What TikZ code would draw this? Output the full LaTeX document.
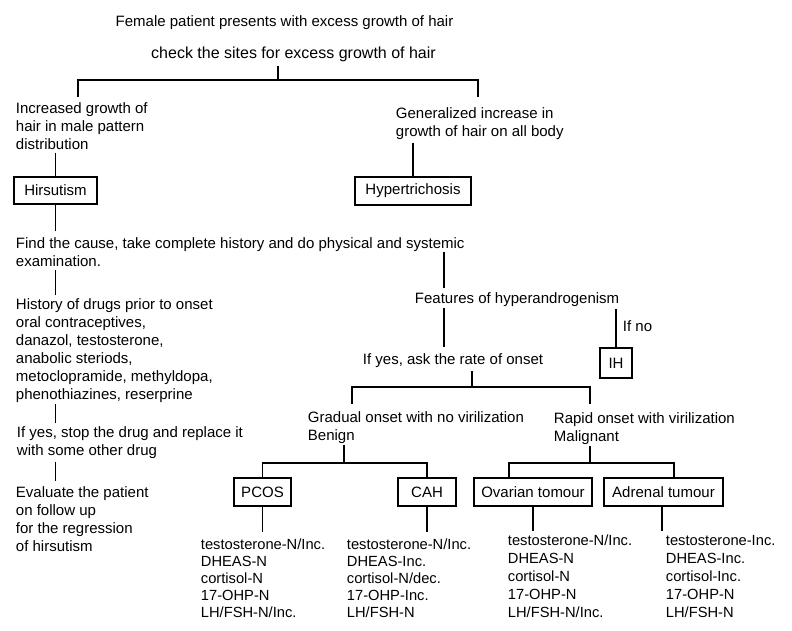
\documentclass[tikz,border=0pt]{standalone}
\usepackage{fontspec}
\setmainfont{Liberation Sans}
\newcommand\fsz{\fontsize{15}{18}\selectfont}
\newcommand\fcol{\fontsize{14.7}{17}\selectfont}
\newcommand\fcolb{\fontsize{14.7}{18}\selectfont}
\begin{document}
\begin{tikzpicture}[x=1pt,y=-1pt,line width=1.9pt,
  txt/.style={inner sep=0pt,align=left,font=\fsz},
  box/.style={draw,inner sep=0pt,minimum height=28pt,font=\fsz}]
\useasboundingbox (0,0) rectangle (792,630);
\fill[white] (0,0) rectangle (792,630);
% top
\node[txt,anchor=base] (t1) at (284.5,26) {Female patient presents with excess growth of hair};
\node[txt,anchor=base,font=\fontsize{16}{19}\selectfont] (t2) at (293.5,58.5) {check the sites for excess growth of hair};
\coordinate (j1) at (278,80);
\coordinate (bl) at (78,97);
\coordinate (br) at (478,97);
\draw[shorten <=3pt] (t2.south -| j1) -- (j1);
\draw (bl) |- (j1) -| (br);
\node[txt,anchor=north west] (inc) at (15,102) {Increased growth of\\hair in male pattern\\distribution};
\node[txt,anchor=north west] (gen) at (395,107) {Generalized increase in\\growth of hair on all body};
\node[box,minimum width=83pt,minimum height=27pt] (hirs) at (55.5,190.5) {Hirsutism};
\node[box,minimum width=116pt] (hyp) at (413,191) {Hypertrichosis};
\draw[shorten <=2pt] (hirs.north |- inc.south) -- (hirs.north);
\draw[shorten <=2pt] (hyp.north |- gen.south) -- (hyp.north);
% left column
\node[txt,anchor=north west] (find) at (15,237) {Find the cause, take complete history and do physical and systemic\\examination.};
\draw[shorten >=6pt] (hirs.south) -- (hirs.south |- find.north);
\node[txt,anchor=north west] (hist) at (15,298) {History of drugs prior to onset\\oral contraceptives,\\danazol, testosterone,\\anabolic steriods,\\metoclopramide, methyldopa,\\phenothiazines, reserprine};
\draw[shorten <=2pt,shorten >=3pt] (hirs.south |- find.south) -- (hirs.south |- hist.north);
\node[txt,anchor=north west] (stop) at (16,426) {If yes, stop the drug and replace it\\with some other drug};
\draw[shorten >=3pt] (hirs.south |- hist.south) -- (hirs.south |- stop.north);
\node[txt,anchor=north west] (eval) at (15,486) {Evaluate the patient\\on follow up\\for the regression\\of hirsutism};
\draw[shorten <=2pt,shorten >=5pt] (hirs.south |- stop.south) -- (hirs.south |- eval.north);
% right branch
\node[txt,anchor=base west] (feat) at (414,303) {Features of hyperandrogenism};
\coordinate (fc) at (444,252);
\draw[shorten >=3pt] (fc) -- (fc |- feat.north);
\node[txt,anchor=base west] (rate) at (362,364) {If yes, ask the rate of onset};
\draw[shorten <=1pt,shorten >=5pt] (fc |- feat.south) -- (fc |- rate.north);
\node[box,minimum width=32pt,minimum height=30pt] (ih) at (616,363) {IH};
\draw[shorten <=2pt] (ih.north |- feat.south) -- (ih.north);
\node[txt,anchor=base west] (ifno) at (622,331) {If no};
\coordinate (j2) at (472,387);
\coordinate (gl) at (352,404);
\coordinate (gr) at (590,404);
\draw[shorten <=3pt] (rate.south -| j2) -- (j2);
\draw (gl) |- (j2) -| (gr);
\node[txt,anchor=north west] (grad) at (307,411) {Gradual onset with no virilization\\Benign};
\node[txt,anchor=north west] (rapid) at (553,412) {Rapid onset with virilization\\Malignant};
% diagnosis boxes
\node[box,minimum width=57pt] (pcos) at (262.5,492) {PCOS};
\node[box,minimum width=58pt] (cah) at (427,492) {CAH};
\node[box,minimum width=118pt] (ova) at (533,492) {Ovarian tomour};
\node[box,minimum width=119pt] (adr) at (663.5,492) {Adrenal tumour};
\coordinate (j3) at (344,463);
\draw (j3 |- grad.south) -- (j3);
\draw (pcos.north) |- (j3) -| (cah.north);
\coordinate (j4) at (590,463);
\coordinate (ol) at (509,478);
\coordinate (ar) at (674,478);
\draw (j4 |- rapid.south) -- (j4);
\draw (ol) |- (j4) -| (ar);
% results
\node[txt,anchor=north west,font=\fcol] (c1) at (200,538) {testosterone-N/Inc.\\DHEAS-N\\cortisol-N\\17-OHP-N\\LH/FSH-N/Inc.};
\node[txt,anchor=north west,font=\fcol] (c2) at (346,538) {testosterone-N/Inc.\\DHEAS-Inc.\\cortisol-N/dec.\\17-OHP-Inc.\\LH/FSH-N};
\node[txt,anchor=north west,font=\fcolb] (c3) at (507,534) {testosterone-N/Inc.\\DHEAS-N\\cortisol-N\\17-OHP-N\\LH/FSH-N/Inc.};
\node[txt,anchor=north west,font=\fcolb] (c4) at (665,534) {testosterone-Inc.\\DHEAS-Inc.\\cortisol-Inc.\\17-OHP-N\\LH/FSH-N};
\draw[shorten >=6pt] (pcos.south) -- (pcos.south |- c1.north);
\draw[shorten >=6pt] (cah.south) -- (cah.south |- c2.north);
\draw[shorten >=3pt] (ova.south) -- (ova.south |- c3.north);
\draw[shorten >=3pt] ([xshift=-1.5pt]adr.south) -- ([xshift=-1.5pt]adr.south |- c4.north);
\end{tikzpicture}
\end{document}
